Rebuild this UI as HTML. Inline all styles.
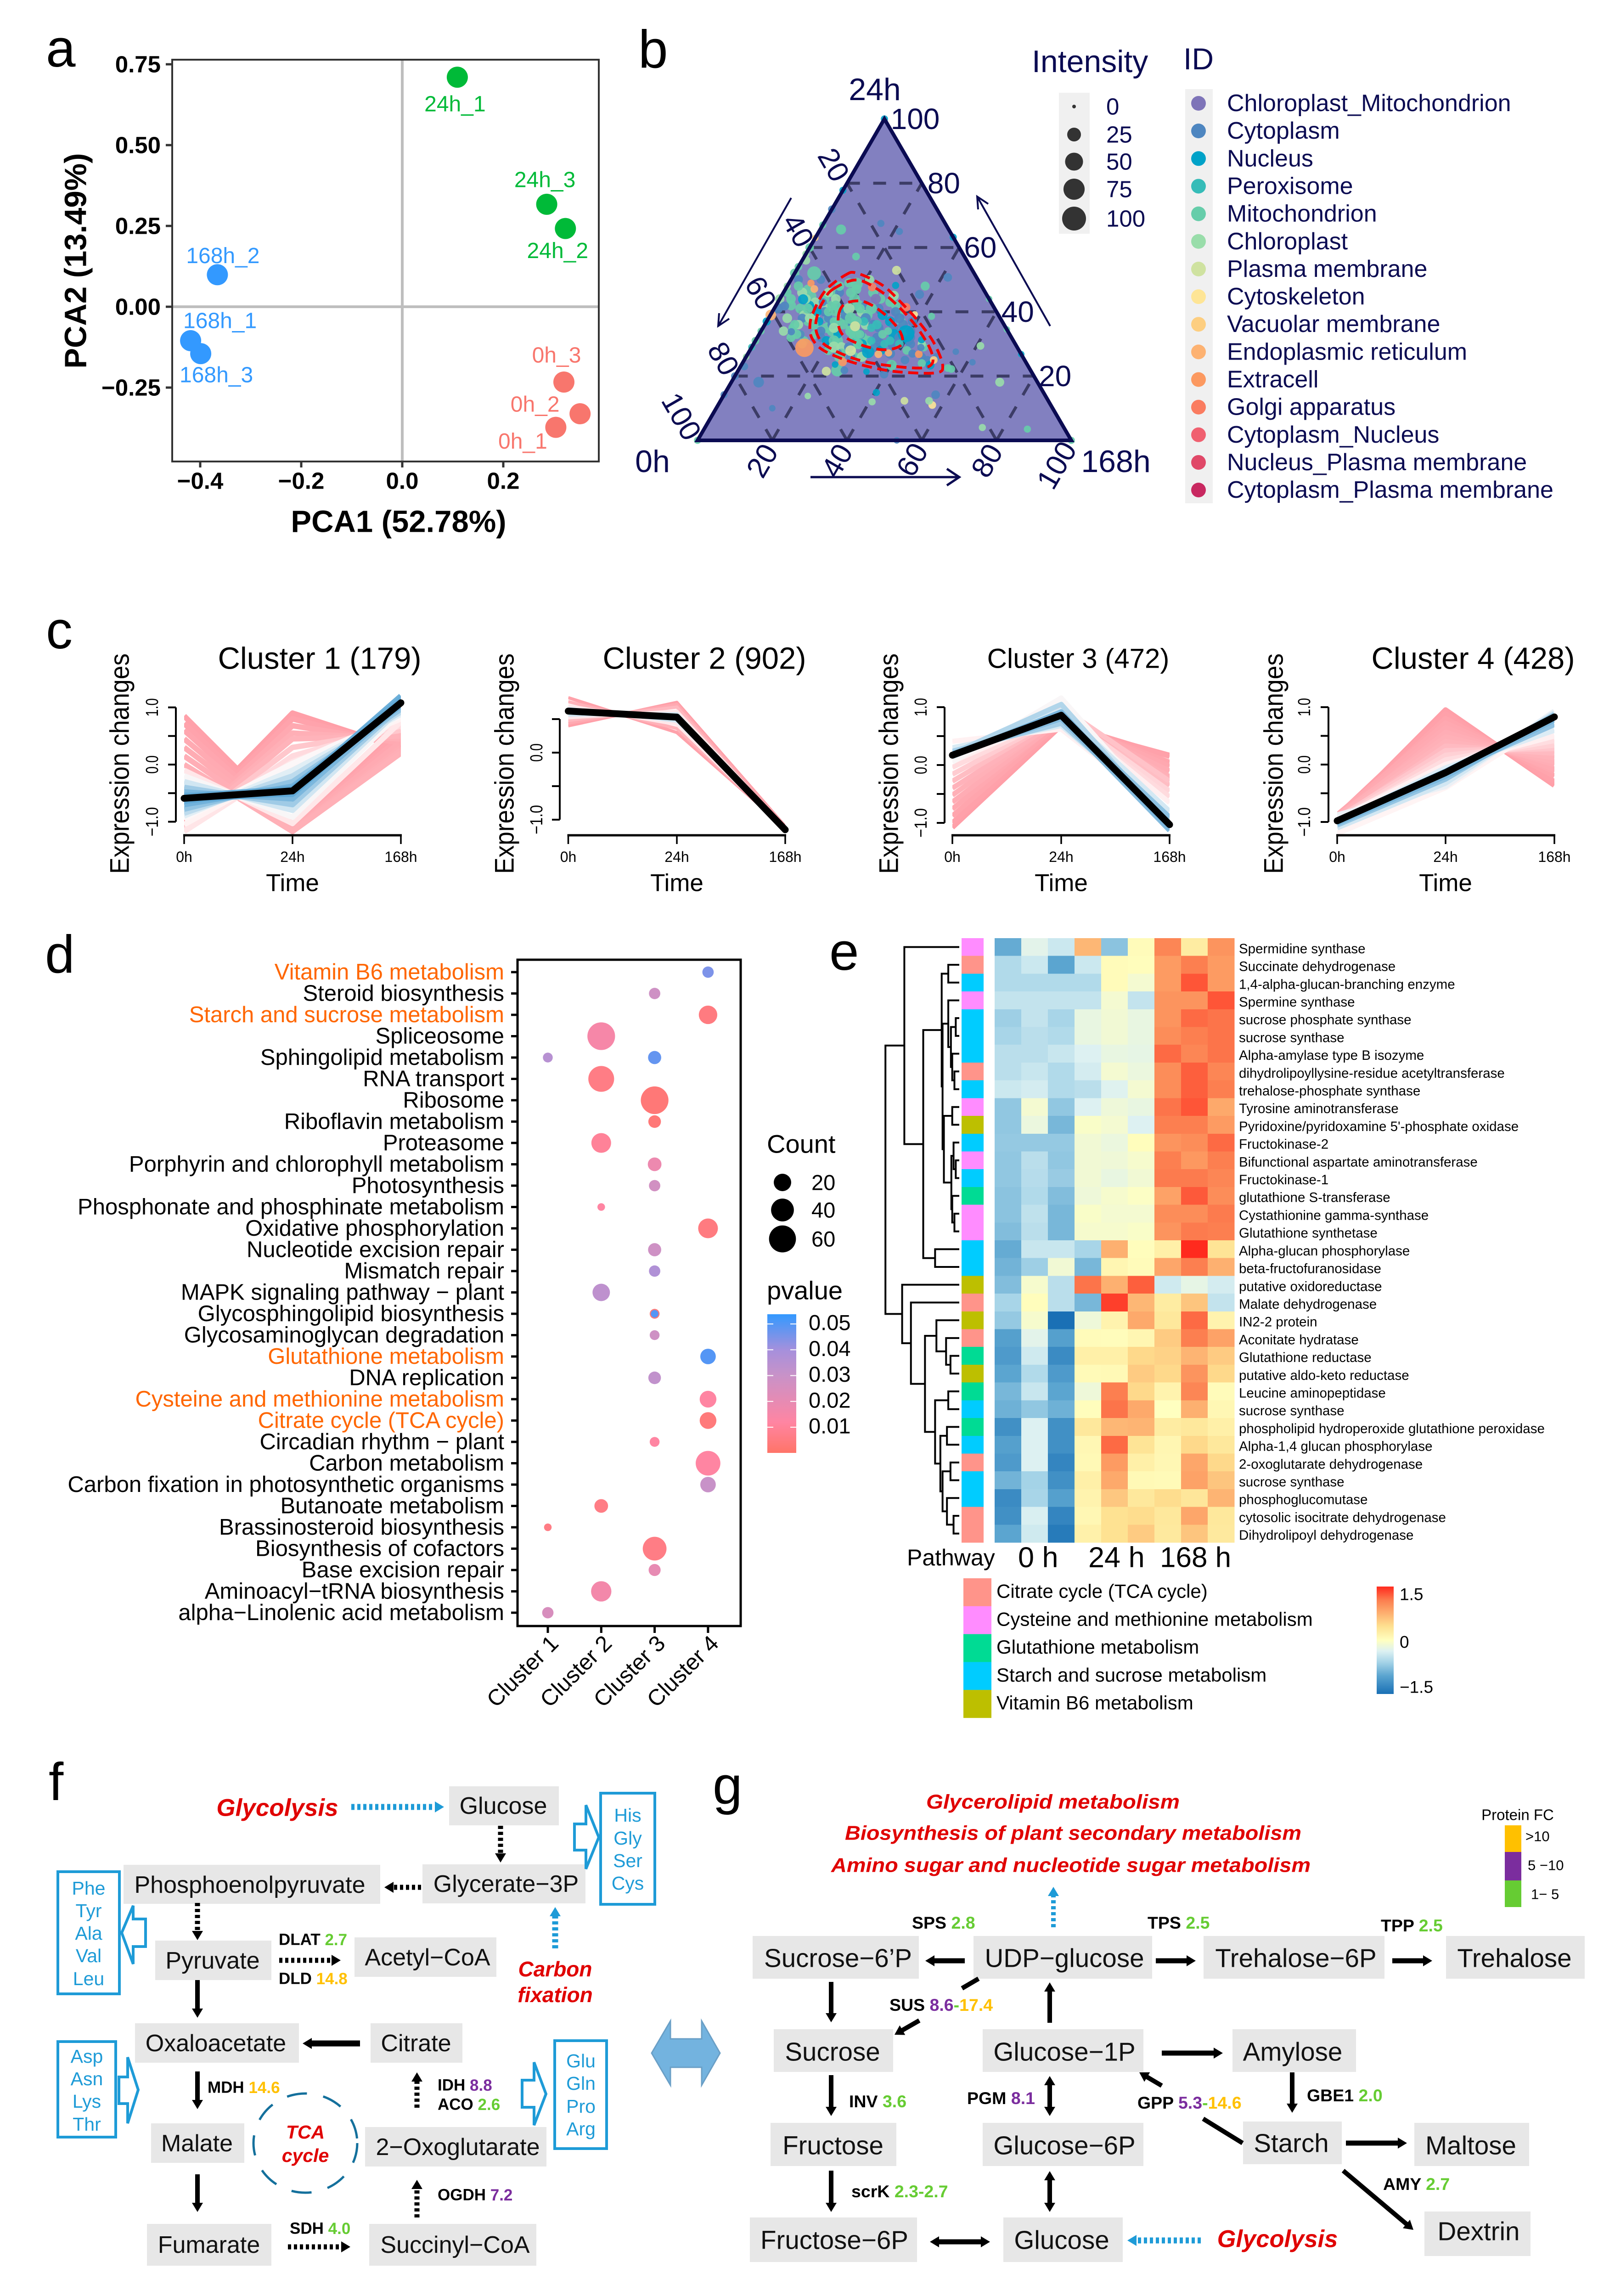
<!DOCTYPE html>
<html lang="en">
<head>
<meta charset="utf-8">
<title>Multi-panel proteomics figure</title>
<style>
html,body{margin:0;padding:0;background:#fff;width:3517px;height:5000px;overflow:hidden}
svg{display:block;position:absolute;left:0;top:0;font-family:"Liberation Sans",sans-serif}
.c{text-anchor:middle;dominant-baseline:central}
.l{text-anchor:start;dominant-baseline:central}
.r{text-anchor:end;dominant-baseline:central}
.panel{font-size:116px;fill:#000}
.node{fill:#E7E7E7}
.f{font-size:52px;fill:#111}
.g{font-size:56.5px;fill:#111}
.aa{font-size:41px;fill:#1E9BD7}
.bbox{fill:#fff;stroke:#1E9BD7;stroke-width:6}
.red{font-weight:bold;font-style:italic;fill:#E00000}
.e{font-size:35px;font-weight:bold;fill:#000}
.e2{font-size:37.5px;font-weight:bold;fill:#000}
.gr{fill:#66CC33}.or{fill:#FFC000}.pu{fill:#7B2D9E}
</style>
</head>
<body>
<svg id="fig" width="3517" height="5000" viewBox="0 0 3517 5000">
<defs>
<linearGradient id="pGrad" x1="0" y1="0" x2="0" y2="1">
<stop offset="0" stop-color="#3399FF"/><stop offset=".26" stop-color="#A690DC"/><stop offset=".44" stop-color="#C892C8"/><stop offset=".78" stop-color="#FF85A2"/><stop offset="1" stop-color="#FF7468"/>
</linearGradient>
<linearGradient id="hGrad" x1="0" y1="0" x2="0" y2="1">
<stop offset="0" stop-color="#FF2A1E"/><stop offset=".13" stop-color="#FC7F50"/><stop offset=".25" stop-color="#FDB070"/><stop offset=".37" stop-color="#FEE090"/><stop offset=".5" stop-color="#FFFFC0"/><stop offset=".6" stop-color="#DDF1F2"/><stop offset=".7" stop-color="#A8D5E8"/><stop offset=".83" stop-color="#5BA5D0"/><stop offset="1" stop-color="#1A70B5"/>
</linearGradient>
</defs>

<text class="panel" x="100" y="145">a</text>
<text class="panel" x="1390" y="147">b</text>
<text class="panel" x="100" y="1412">c</text>
<text class="panel" x="98" y="2118">d</text>
<text class="panel" x="1806" y="2112">e</text>
<text class="panel" x="106" y="3920">f</text>
<text class="panel" x="1552" y="3928">g</text>

<g id="panelA">
<text class="c" x="868" y="1136" font-size="67" font-weight="bold">PCA1 (52.78%)</text>
<text class="c" x="165" y="568" font-size="67" font-weight="bold" transform="rotate(-90 165 568)">PCA2 (13.49%)</text>
</g>

<g id="panelB">
<polygon points="1926,259 2333,959 1519,959" fill="#8280C0"/>
<g id="ternGrid"></g>
<g id="ternPoints"></g>
<polygon points="1926,259 2333,959 1519,959" fill="none" stroke="#0B0B52" stroke-width="8"/>
<g id="ternContours"></g>
<g fill="#0B0B52" font-size="68">
<text class="c" x="1905" y="195">24h</text>
<text class="c" x="1421" y="1005">0h</text>
<text class="c" x="2430" y="1005" text-anchor="middle">168h</text>
</g>
<g stroke="#0B0B52" stroke-width="4" fill="none">
<path d="M1723 431L1564 710M1566 682L1564 710L1588 694"/>
<path d="M2287 710L2128 428M2130 456L2128 428L2152 444"/>
<path d="M1765 1039L2089 1039M2062 1021L2089 1039L2062 1057" stroke-width="5"/>
</g>
<text class="l" x="2247" y="134" font-size="68" fill="#0B0B52">Intensity</text>
<rect x="2306" y="202" width="67" height="307" fill="#F0F0F0"/>
<text class="l" x="2577" y="128" font-size="66" fill="#0B0B52">ID</text>
<rect x="2581" y="194" width="60" height="902" fill="#F0F0F0"/>
<g id="ternLegend"></g>
</g>

<g id="panelC"></g>

<g id="panelD">
<rect x="1127" y="2090" width="486" height="1451" fill="none" stroke="#000" stroke-width="5"/>
<text class="l" x="1670" y="2491" font-size="56">Count</text>
<text class="l" x="1670" y="2810" font-size="56">pvalue</text>
<rect x="1671" y="2862" width="63" height="302" fill="url(#pGrad)"/>
</g>

<g id="panelE">
<text class="l" x="1975" y="3392" font-size="50">Pathway</text>
<text class="l" x="2217" y="3392" font-size="63">0 h</text>
<text class="l" x="2370" y="3392" font-size="63">24 h</text>
<text class="l" x="2526" y="3392" font-size="62">168 h</text>
<rect x="2998" y="3455" width="37" height="234" fill="url(#hGrad)"/>
<text class="l" x="3048" y="3472" font-size="37">1.5</text>
<text class="l" x="3048" y="3576" font-size="37">0</text>
<text class="l" x="3048" y="3674" font-size="37">−1.5</text>
</g>

<g id="panelF" transform="translate(0,-3)">
<g><rect class="node" x="978" y="3893" width="239" height="85"/><text class="c f" x="1096" y="3936">Glucose</text></g>
<g><rect class="node" x="920" y="4063" width="355" height="85"/><text class="c f" x="1102" y="4106">Glycerate−3P</text></g>
<g><rect class="node" x="269" y="4064" width="559" height="85"/><text class="c f" x="544" y="4108">Phosphoenolpyruvate</text></g>
<g><rect class="node" x="338" y="4229" width="253" height="86"/><text class="c f" x="463" y="4273">Pyruvate</text></g>
<g><rect class="node" x="772" y="4222" width="309" height="86"/><text class="c f" x="931" y="4266">Acetyl−CoA</text></g>
<g><rect class="node" x="294" y="4409" width="357" height="86"/><text class="c f" x="470" y="4453">Oxaloacetate</text></g>
<g><rect class="node" x="807" y="4409" width="200" height="86"/><text class="c f" x="906" y="4453">Citrate</text></g>
<g><rect class="node" x="329" y="4627" width="203" height="86"/><text class="c f" x="429" y="4671">Malate</text></g>
<g><rect class="node" x="795" y="4635" width="395" height="86"/><text class="c f" x="997" y="4679">2−Oxoglutarate</text></g>
<g><rect class="node" x="320" y="4846" width="271" height="91"/><text class="c f" x="455" y="4892">Fumarate</text></g>
<g><rect class="node" x="804" y="4846" width="364" height="91"/><text class="c f" x="991" y="4892">Succinyl−CoA</text></g>

<g><rect class="bbox" x="1308" y="3908" width="118" height="242"/><text class="c aa" x="1367" y="3956">His</text><text class="c aa" x="1367" y="4006">Gly</text><text class="c aa" x="1367" y="4055">Ser</text><text class="c aa" x="1367" y="4104">Cys</text></g>
<g><rect class="bbox" x="126" y="4079" width="134" height="266"/><text class="c aa" x="193" y="4115">Phe</text><text class="c aa" x="193" y="4164">Tyr</text><text class="c aa" x="193" y="4213">Ala</text><text class="c aa" x="193" y="4262">Val</text><text class="c aa" x="193" y="4312">Leu</text></g>
<g><rect class="bbox" x="126" y="4449" width="126" height="208"/><text class="c aa" x="189" y="4481">Asp</text><text class="c aa" x="189" y="4530">Asn</text><text class="c aa" x="189" y="4579">Lys</text><text class="c aa" x="189" y="4629">Thr</text></g>
<g><rect class="bbox" x="1208" y="4447" width="113" height="235"/><text class="c aa" x="1265" y="4491">Glu</text><text class="c aa" x="1265" y="4540">Gln</text><text class="c aa" x="1265" y="4590">Pro</text><text class="c aa" x="1265" y="4639">Arg</text></g>

<polygon class="bbox" points="1251,3975 1276,3975 1276,3934 1304,4004 1276,4073 1276,4032 1251,4032"/>
<polygon class="bbox" points="317,4182 290,4182 290,4153 265,4212 290,4280 290,4242 317,4242"/>
<polygon class="bbox" points="259,4526 278,4526 278,4483 301,4554 278,4627 278,4584 259,4584"/>
<polygon class="bbox" points="1137,4533 1163,4533 1163,4494 1189,4563 1163,4631 1163,4592 1137,4592"/>

<text class="c red" x="604" y="3940" font-size="53">Glycolysis</text>
<text class="c red" x="1209" y="4291" font-size="46">Carbon</text>
<text class="c red" x="1209" y="4347" font-size="46">fixation</text>
<text class="c red" x="665" y="4646" font-size="41">TCA</text>
<text class="c red" x="665" y="4697" font-size="41">cycle</text>
<ellipse cx="665" cy="4670" rx="113" ry="108" fill="none" stroke="#14709C" stroke-width="5" stroke-dasharray="44 36"/>

<text class="l e" x="607" y="4227">DLAT <tspan class="gr">2.7</tspan></text>
<text class="l e" x="607" y="4312">DLD <tspan class="or">14.8</tspan></text>
<text class="l e" x="452" y="4549">MDH <tspan class="or">14.6</tspan></text>
<text class="l e" x="953" y="4544">IDH <tspan class="pu">8.8</tspan></text>
<text class="l e" x="953" y="4586">ACO <tspan class="gr">2.6</tspan></text>
<text class="l e" x="953" y="4783">OGDH <tspan class="pu">7.2</tspan></text>
<text class="l e" x="631" y="4856">SDH <tspan class="gr">4.0</tspan></text>
</g>

<polygon points="1419,4471 1460,4401 1460,4440 1528,4440 1528,4401 1568,4471 1528,4541 1528,4502 1460,4502 1460,4541" fill="#73B3DF" stroke="#6A9FC6" stroke-width="3"/>

<g id="panelG" transform="translate(0,-3)">
<g><rect class="node" x="1639" y="4219" width="362" height="93"/><text class="c g" x="1825" y="4267">Sucrose−6’P</text></g>
<g><rect class="node" x="2120" y="4219" width="389" height="93"/><text class="c g" x="2318" y="4267">UDP−glucose</text></g>
<g><rect class="node" x="2621" y="4219" width="394" height="93"/><text class="c g" x="2822" y="4267">Trehalose−6P</text></g>
<g><rect class="node" x="3149" y="4219" width="302" height="93"/><text class="c g" x="3298" y="4267">Trehalose</text></g>
<g><rect class="node" x="1685" y="4422" width="260" height="93"/><text class="c g" x="1813" y="4471">Sucrose</text></g>
<g><rect class="node" x="2140" y="4422" width="350" height="93"/><text class="c g" x="2318" y="4471">Glucose−1P</text></g>
<g><rect class="node" x="2684" y="4422" width="269" height="93"/><text class="c g" x="2815" y="4471">Amylose</text></g>
<g><rect class="node" x="1678" y="4626" width="274" height="94"/><text class="c g" x="1814" y="4675">Fructose</text></g>
<g><rect class="node" x="2140" y="4626" width="350" height="94"/><text class="c g" x="2318" y="4675">Glucose−6P</text></g>
<g><rect class="node" x="2707" y="4623" width="215" height="93"/><text class="c g" x="2812" y="4670">Starch</text></g>
<g><rect class="node" x="3080" y="4626" width="250" height="94"/><text class="c g" x="3203" y="4675">Maltose</text></g>
<g><rect class="node" x="1633" y="4832" width="364" height="97"/><text class="c g" x="1817" y="4881">Fructose−6P</text></g>
<g><rect class="node" x="2185" y="4832" width="260" height="97"/><text class="c g" x="2312" y="4881">Glucose</text></g>
<g><rect class="node" x="3102" y="4819" width="231" height="97"/><text class="c g" x="3220" y="4862">Dextrin</text></g>

<text class="c red" x="2293" y="3927" font-size="44" textLength="552" lengthAdjust="spacingAndGlyphs">Glycerolipid  metabolism</text>
<text class="c red" x="2337" y="3995" font-size="44" textLength="994" lengthAdjust="spacingAndGlyphs">Biosynthesis of plant secondary metabolism</text>
<text class="c red" x="2332" y="4065" font-size="44" textLength="1044" lengthAdjust="spacingAndGlyphs">Amino sugar and nucleotide sugar metabolism</text>
<text class="c red" x="2782" y="4879" font-size="52.5">Glycolysis</text>

<text class="c" x="3305" y="3955" font-size="33">Protein FC</text>
<rect x="3277" y="3978" width="36" height="58" fill="#FFC000"/>
<rect x="3277" y="4036" width="36" height="62" fill="#7B2D9E"/>
<rect x="3277" y="4098" width="36" height="58" fill="#66CC33"/>
<text class="l" x="3322" y="4002" font-size="31">&gt;10</text>
<text class="l" x="3327" y="4065" font-size="31">5 −10</text>
<text class="l" x="3334" y="4128" font-size="31">1− 5</text>

<text class="l e2" x="1986" y="4190">SPS <tspan class="gr">2.8</tspan></text>
<text class="l e2" x="2499" y="4190">TPS <tspan class="gr">2.5</tspan></text>
<text class="l e2" x="3007" y="4196">TPP <tspan class="gr">2.5</tspan></text>
<text class="l e2" x="1937" y="4369">SUS <tspan class="pu">8.6</tspan><tspan class="gr">-</tspan><tspan class="or">17.4</tspan></text>
<text class="l e2" x="1849" y="4579">INV <tspan class="gr">3.6</tspan></text>
<text class="l e2" x="2106" y="4572">PGM <tspan class="pu">8.1</tspan></text>
<text class="l e2" x="2477" y="4582">GPP <tspan class="pu">5.3</tspan><tspan class="gr">-</tspan><tspan class="or">14.6</tspan></text>
<text class="l e2" x="2846" y="4566">GBE1 <tspan class="gr">2.0</tspan></text>
<text class="l e2" x="1854" y="4775">scrK <tspan class="gr">2.3-2.7</tspan></text>
<text class="l e2" x="3012" y="4759">AMY <tspan class="gr">2.7</tspan></text>
</g>
<g id="arrows" transform="translate(0,-3)"></g>
</svg>

<script>
/* ---------- Panel a data ---------- */
const pcaSamples = ['24h_1','24h_3','24h_2','168h_2','168h_1','168h_3','0h_3','0h_2','0h_1'];
const pcaX = [0.109,0.286,0.323,-0.366,-0.419,-0.399,0.320,0.352,0.304];
const pcaY = [0.710,0.317,0.242,0.099,-0.105,-0.145,-0.233,-0.331,-0.373];
const pcaXTicks = [-0.4,-0.2,0,0.2];
const pcaYTicks = [0.75,0.5,0.25,0,-0.25];

/* ---------- Panel b data (percent) ---------- */
const ternT168 = [
6,8,10,7,12,9,11,14,8,13, 15,12,16,14,18,17,11,19,15,13, 20,22,24,21,26,23,25,27,19,28, 22,24,26,28,25,27,30,29,32,21, 16,19,21,24,27,30,32,34,36,39,
8,10,12,9,13,15,11,14,16,18, 9,12,14,16,18,20,17,19,22,21, 24,26,28,30,29,31,33,35,27,32, 33,35,37,39,36,38,40,41,34,42, 24,26,28,31,29,33,35,37,38,27,
26,29,31,35,34,23,21,18,15,27, 42,44,46,47,49,48,43,45,41,51, 0,1,0,2,1,0,1,0,0,1,
7,9,11,13,10,15,17,20,22,24, 19,21,24,26,22,26,28,25,30,18, 12,14,16,9,13,30,33,36,39,31, 4,5,3,5,3,8,6,9,
14.2,5.2,18.2,39.2,31.9,27,24.4,25.7,26.8,36.9, 36.7,35.1,22.9,45.8,26.5,28.4,26.6,23.7,40.2,50.5, 55.7,56.8,39.6,25,34.5,8.2,2.4,6.3,0.1,5.9, 7.7,38.5,43.3,50.7,28.9,41.6,13.8,55.3,7.3,35, 37.5,44.3,45.3,
5.6,15.3,21.5,36.8,61,61.4,71.8,15,22.6,40.4, 40.7,49.2,56.6,57.3,55.8,74.2,86.5,53.3,0,0, 100,0,56,65.5,73.2,
0,0,0,0,0,0,0,0,0,0,0];
const ternT24 = [
47,45,43,41,44,39,37,41,35,46, 42,39,38,36,40,35,33,37,33,31, 44,42,40,38,39,36,34,36,34,32, 31,29,32,30,27,28,31,26,29,28, 49,47,50,46,44,45,42,40,37,34,
50,41,43,38,36,46,33,40,38,36, 42,40,37,34,41,39,32,31,37,33, 42,38,41,39,36,35,37,35,33,32, 40,38,36,37,33,32,34,31,30,30, 27,29,26,27,30,29,28,30,27,31,
37,35,31,30,34,41,36,37,40,33, 28,27,29,26,25,24,25,30,32,26, 60,56,52,50,46,44,41,37,31,23,
44,41,38,36,33,44,40,41,38,34, 35,31,37,41,29,33,30,26,36,46, 46,48,42,36,30,43,33,31,30,26, 42,38,44,46,48,36,34,32,
28.8,52,48.7,33.2,27.5,27.9,35.5,44,52.9,48, 45.4,41.4,47.7,26.8,21.8,21.8,24.4,21.5,23.4,23.4, 22.5,22.2,20.6,23.6,21.4,33.8,41.8,43.9,39,48.9, 47.1,39.2,38.6,25,48.2,50.7,57.2,27.6,18.1,26.8, 27.2,31.3,28.9,
65.6,67.5,65,63.2,29.4,24.3,18.1,10,13.8,14.9, 12,12.3,14.2,11,12.3,4,3.5,0,14.2,0, 0,100,44,34.5,26.8,
77.8,71.9,67,63,58,54,48,34,26,20,29];
const ternIntensity = [
8,9,8,10,9,8,7,8,7,9, 9,8,10,9,8,10,6,9,8,7, 12,14,12,14,10,12,14,10,12,12, 12,10,14,12,10,12,10,8,10,8, 8,9,8,10,8,10,8,8,7,8,
6,6,5,7,8,7,6,8,7,8, 7,7,6,7,6,8,7,8,7,6, 8,10,8,10,9,8,10,9,9,8, 8,10,9,8,12,10,8,8,10,7, 8,9,7,9,8,9,8,9,10,6,
6,5,5,5,4,8,8,6,7,6, 6,5,6,5,5,5,6,5,7,4, 6,6,8,7,6,8,9,5,4,4,
9,10,9,10,8,9,8,14,16,14, 10,12,12,14,14,12,10,12,8,9, 8,8,9,8,7,8,6,6,6,10, 10,9,9,10,8,8,8,7,
53,25,18,42,18,12,10,10,7,7, 7,6,6,4,18,4,6,7,12,7, 4,4,6,2,2,3,7,10,12,3, 4,2,3,4,3,6,4,2,12,4, 3,3,3,
10,3,3,3,4,2,7,2,2,3, 3,4,6,4,4,3,3,2,3,3, 3,3,2,2,2,
3,4,3,2,3,4,3,3,2,4,3];
const ternLocation = [
4,4,5,4,4,5,4,5,4,4, 4,5,4,4,5,4,5,4,4,4, 4,4,5,4,4,4,4,5,4,4, 4,5,4,4,4,5,4,4,4,4, 4,4,5,4,4,5,4,4,4,4,
1,1,1,1,1,1,1,1,1,1, 2,2,2,1,2,1,1,2,1,2, 1,1,1,2,1,1,2,1,1,1, 1,1,1,1,2,1,1,2,1,1, 1,1,1,1,2,1,2,1,1,3,
3,3,3,3,4,4,4,4,4,4, 4,1,4,1,1,4,1,5,1,1, 4,5,4,1,4,5,1,2,4,1,
5,4,5,4,4,5,4,5,4,4, 5,4,4,4,5,4,4,4,3,4, 5,4,4,5,5,4,4,3,3,5, 4,5,4,5,4,4,5,4,
10,4,4,2,2,6,6,0,6,4, 1,11,11,10,4,1,10,6,4,2, 4,4,1,2,2,1,1,2,9,10, 9,7,4,8,2,1,4,1,1,9, 9,2,1,
4,1,1,2,5,1,5,1,5,2, 5,6,1,7,5,5,4,1,1,4, 4,2,4,4,2,
2,1,4,8,5,4,5,4,5,1,3];
const contourOuterT168 = [13.9,16.7,25.1,32.6,40.6,48.1,54,53.1,43.2,35.3,27.4,19.7,15.2,12.6,11.1,10.9];
const contourOuterT24 = [51.5,52,48.4,43.2,37,30.3,23.2,21,21.3,22.7,24.9,28,31.3,34.9,39.4,46.5];
const contourMiddleT168 = [12.7,17.6,25.6,33.4,41.2,48.4,50.8,47.5,36.6,28.7,20.7,16.6,13.8,12.3,12];
const contourMiddleT24 = [47,49.9,46.5,41.3,35.1,28,23.7,22.5,23.7,25.6,28.9,31.8,35.6,40.1,43.4];
const contourInnerT168 = [18.1,18.2,21.6,25.3,29.4,33.3,37.4,39.7,38.6,35.6,31.6,27.9,23.3,20.3];
const contourInnerT24 = [39.4,42.5,43.4,42.2,39.9,37.2,33.7,30.3,28.7,28.2,28.9,30.1,32.2,35.1];
const ternTicks = [20,40,60,80,100];
const intensityLevels = [0,25,50,75,100];
const locationNames = ['Chloroplast_Mitochondrion','Cytoplasm','Nucleus','Peroxisome','Mitochondrion','Chloroplast','Plasma membrane','Cytoskeleton','Vacuolar membrane','Endoplasmic reticulum','Extracell','Golgi apparatus','Cytoplasm_Nucleus','Nucleus_Plasma membrane','Cytoplasm_Plasma membrane'];

/* ---------- Panel c data: member profiles [0h, 24h, 168h] ---------- */
const clusterTimes = ['0h','24h','168h'];
const cluster1Center = [-0.59,-0.46,1.08];
const cluster2Center = [0.62,0.53,-1.15];
const cluster3Center = [0.17,0.86,-1.03];
const cluster4Center = [-0.98,-0.14,0.83];
const cluster1Lines = [[.85,-1.05,.7],[.72,-1.08,.55],[.6,-1.1,.48],[.45,-1.12,.4],[.3,-1.14,.3],[.15,-1.15,.25],[0,-1.17,.2],[-.1,-1.03,.75],[-.2,-.92,.92],[-.3,-.8,.98],[-.4,-.7,1.02],[-.48,-.6,1.06],[-.54,-.52,1.1],[-1.04,.9,.28],[-1.06,.8,.32],[-1.08,.68,.38],[-1.1,.55,.45],[-1.12,.45,.5],[-1.14,.3,.6],[-1.16,.15,.68],[-1.17,.05,.75],[-1.05,0,.8],[-.95,.02,.85],[-.9,-.1,.88],[-.85,-.2,.92],[-.78,-.3,.97],[-.7,-.38,1.03],[-.64,-.42,1.08],[-.62,-.5,1.12],[-.55,-.42,1.15],[-.6,-.46,1.2]];
const cluster2Lines = [[.82,.3,-1.12],[.76,.36,-1.13],[.7,.42,-1.15],[.66,.47,-1.12],[.4,.75,-1.1],[.44,.72,-1.12],[.48,.68,-1.16],[.52,.62,-1.13],[.56,.58,-1.15],[.6,.55,-1.14],[.62,.53,-1.15],[.64,.5,-1.15]];
const cluster3Lines = [[-1.08,.68,.17],[-1.0,.72,.15],[-.88,.75,.05],[-.76,.8,-.02],[-.64,.78,-.1],[-.52,.82,-.2],[-.4,.8,-.25],[-.28,.84,-.35],[-.16,.85,-.45],[-.04,.86,-.55],[.06,.88,-.65],[.14,.95,-.8],[.2,.86,-.9],[.3,.68,-.9],[.41,.62,-.85],[.05,1.16,-.95],[.2,1.05,-1.05],[.16,.92,-1.1],[.18,.8,-1.13],[.24,.72,-.95],[.12,.9,-.45],[.1,1.0,-.28]];
const cluster4Lines = [[-.95,.95,-.36],[-.9,.88,-.3],[-.95,.8,-.2],[-.88,.72,-.12],[-.92,.64,-.08],[-.95,.56,0],[-.9,.48,.05],[-.93,.4,.12],[-.97,.32,.2],[-.94,.24,.28],[-.96,.16,.34],[-.98,.08,.42],[-.95,0,.5],[-1,-.06,.6],[-.98,-.14,.7],[-1.02,-.2,.78],[-.97,-.12,.83],[-1.05,-.25,.87],[-1.1,-.32,.9],[-.88,-.38,.93],[-1.2,-.4,.8]];
const clusterTitles = ['Cluster 1 (179)','Cluster 2 (902)','Cluster 3 (472)','Cluster 4 (428)'];

/* ---------- Panel d data ---------- */
const pathwayNames = ['Vitamin B6 metabolism','Steroid biosynthesis','Starch and sucrose metabolism','Spliceosome','Sphingolipid metabolism','RNA transport','Ribosome','Riboflavin metabolism','Proteasome','Porphyrin and chlorophyll metabolism','Photosynthesis','Phosphonate and phosphinate metabolism','Oxidative phosphorylation','Nucleotide excision repair','Mismatch repair','MAPK signaling pathway − plant','Glycosphingolipid biosynthesis','Glycosaminoglycan degradation','Glutathione metabolism','DNA replication','Cysteine and methionine metabolism','Citrate cycle (TCA cycle)','Circadian rhythm − plant','Carbon metabolism','Carbon fixation in photosynthetic organisms','Butanoate metabolism','Brassinosteroid biosynthesis','Biosynthesis of cofactors','Base excision repair','Aminoacyl−tRNA biosynthesis','alpha−Linolenic acid metabolism'];
const highlightedPathways = ['Vitamin B6 metabolism','Starch and sucrose metabolism','Glutathione metabolism','Cysteine and methionine metabolism','Citrate cycle (TCA cycle)'];
const bubbleClusterNames = ['Cluster 1','Cluster 2','Cluster 3','Cluster 4'];
const bubblePathway = [0,1,2,3,4,4,5,6,7,8,9,10,11,12,13,14,15,16,16,17,18,19,20,21,22,23,24,25,26,27,28,29,30];
const bubbleCluster = [4,3,4,2,1,3,2,3,3,2,3,3,2,4,3,3,2,3,3,3,4,3,4,4,3,4,4,2,1,3,3,2,1];
const bubbleCount = [5,5,21,58,3,8,49,58,7,25,9,5,1,25,8,5,18,3,1,3,13,7,16,16,3,44,13,9,1,40,6,27,5];
const bubbleP = [.045,.028,.005,.015,.035,.048,.006,.003,.003,.01,.018,.027,.012,.005,.028,.037,.033,.003,.05,.028,.05,.032,.012,.004,.012,.012,.03,.006,.006,.006,.02,.016,.025];
const countLevels = [20,40,60];
const pvalueTicks = [0.05,0.04,0.03,0.02,0.01];

/* ---------- Panel e data ---------- */
const heatRowNames = ['Spermidine synthase','Succinate dehydrogenase','1,4-alpha-glucan-branching enzyme','Spermine synthase','sucrose phosphate synthase','sucrose synthase','Alpha-amylase type B isozyme','dihydrolipoyllysine-residue acetyltransferase','trehalose-phosphate synthase','Tyrosine aminotransferase',"Pyridoxine/pyridoxamine 5'-phosphate oxidase",'Fructokinase-2','Bifunctional aspartate aminotransferase','Fructokinase-1','glutathione S-transferase','Cystathionine gamma-synthase','Glutathione synthetase','Alpha-glucan phosphorylase','beta-fructofuranosidase','putative oxidoreductase','Malate dehydrogenase','IN2-2 protein','Aconitate hydratase','Glutathione reductase','putative aldo-keto reductase','Leucine aminopeptidase','sucrose synthase','phospholipid hydroperoxide glutathione peroxidase','Alpha-1,4 glucan phosphorylase','2-oxoglutarate dehydrogenase','sucrose synthase','phosphoglucomutase','cytosolic isocitrate dehydrogenase','Dihydrolipoyl dehydrogenase'];
const heatValues = [
[-.95,-.25,-.4,.7,-.75,.05,1.05,.25,.95],[-.55,-.4,-1,-.4,.05,.03,.9,1.1,.9],[-.55,-.55,-.55,-.55,.05,-.1,.9,1.3,.9],[-.45,-.45,-.45,-.45,-.1,-.45,.95,.95,1.3],
[-.65,-.45,-.6,-.2,-.12,-.2,.95,1.2,1.15],[-.6,-.5,-.55,-.2,-.12,-.2,1.0,1.1,1.15],[-.5,-.5,-.42,-.3,-.2,-.22,1.2,1.05,1.15],[-.5,-.42,-.55,-.35,-.1,-.18,1.0,1.25,1.05],
[-.4,-.35,-.55,-.5,-.28,-.1,1.0,1.25,1.1],[-.72,-.1,-.72,-.3,-.15,-.2,1.15,1.3,.8],[-.72,-.18,-.85,-.05,-.1,-.3,1.1,1.1,.9],[-.7,-.7,-.7,-.12,-.18,.03,.95,1.0,1.2],
[-.72,-.5,-.72,-.12,-.14,-.08,1.1,.92,1.1],[-.72,-.52,-.68,-.12,-.2,-.12,1.12,1.12,1.05],[-.75,-.55,-.8,-.15,-.08,-.03,.85,1.28,1.0],[-.75,-.47,-.85,-.05,-.1,-.1,1.0,1.0,1.12],
[-.8,-.5,-.85,-.08,-.08,-.05,.95,1.12,1.1],[-.95,-.42,-.42,-.6,.75,.03,.2,1.5,.35],[-.88,-.65,-.12,-.85,.12,.05,.82,1.1,.75],[-.8,-.08,-.5,1.15,.75,1.25,-.38,-.22,-.35],
[-.6,.03,-.5,-.85,1.4,.7,.25,.6,-.45],[-.7,-.08,-1.5,-.15,.15,.8,.3,1.2,.15],[-1.05,-.25,-1.05,.05,.04,.12,.55,1.1,.85],[-1.1,-.38,-1.25,.2,.2,.45,.5,.72,.55],
[-1.0,-.55,-1.1,.07,.08,.55,.45,.95,.45],[-.85,-.42,-1.0,-.15,1.1,.45,.15,1.05,.05],[-.9,-.72,-.9,.03,1.15,.8,0,.75,.1],[-1.2,-.3,-1.2,.3,.7,.72,.25,.3,.2],
[-1.05,-.3,-1.2,.1,1.2,.35,.12,.45,.3],[-1.1,-.3,-1.3,.08,.9,.2,.1,.82,.45],[-.88,-.62,-1.2,.2,.8,.08,.07,.85,.6],[-1.25,-.6,-1.05,.15,.58,.3,.42,.32,.72],
[-1.2,-.32,-1.3,.1,.38,.42,.3,.82,.3],[-1.0,-.38,-1.4,.18,.38,.55,.28,.6,.28]];
const annotationNames = ['Citrate cycle (TCA cycle)','Cysteine and methionine metabolism','Glutathione metabolism','Starch and sucrose metabolism','Vitamin B6 metabolism'];
const heatRowPathway = [1,0,3,1,3,3,3,0,3,1,4,3,1,3,2,1,1,3,3,4,0,4,0,2,4,2,3,2,3,0,3,3,0,0];
const dendrogramTree = [16.8,
  [12.5,1,[8.2,[4.0,[2.5,2,3],[3.8,[2.5,4,[1.9,[.8,5,6],[1.6,7,[1.1,8,9]]]],[3.5,[1.6,10,11],[1.8,[1.3,12,[.8,13,14]],[1.6,15,[1.1,16,17]]]]]],[5.5,18,19]]],
  [13,20,[11,21,[7.8,[5.2,22,[3,23,[2,24,25]]],[5.5,[2.5,26,27],[4.3,[2.8,28,29],[3.8,[2,30,31],[2.8,32,[1.3,33,34]]]]]]]]];

/* ---------- Helpers ---------- */
const svgRoot = document.getElementById('fig');
const NS = svgRoot.namespaceURI;
function mk(tag, attrs, parent, text) {
  const el = document.createElementNS(NS, tag);
  for (const k in attrs) el.setAttribute(k, attrs[k]);
  if (text !== undefined) el.textContent = text;
  parent.appendChild(el);
  return el;
}
function hex2rgb(h){return [parseInt(h.slice(1,3),16),parseInt(h.slice(3,5),16),parseInt(h.slice(5,7),16)];}
function ramp(stops, v){
  if (v <= stops[0][0]) return stops[0][1];
  for (let i=1;i<stops.length;i++){
    if (v <= stops[i][0]){
      const t=(v-stops[i-1][0])/(stops[i][0]-stops[i-1][0]);
      const a=hex2rgb(stops[i-1][1]), b=hex2rgb(stops[i][1]);
      return 'rgb('+a.map((x,j)=>Math.round(x+(b[j]-x)*t)).join(',')+')';
    }
  }
  return stops[stops.length-1][1];
}

/* ---------- Panel a ---------- */
const panelA = document.getElementById('panelA');
const xA = v => 876 + 1100*v;
const yA = v => 668 - 704*v;
const pcaColors = {'24h':'#00BA38','168h':'#3399FF','0h':'#F8766D'};
const pcaLabelNudge = {'24h_1':[-5,59],'24h_3':[-4,-53],'24h_2':[-17,49],'168h_2':[12,-41],'168h_1':[64,-43],'168h_3':[34,47],'0h_3':[-16,-58],'0h_2':[-98,-20],'0h_1':[-72,31]};
const gridV = mk('line',{x1:xA(0),x2:xA(0),y1:130,y2:1005,stroke:'#BEBEBE','stroke-width':6},panelA);


const gridH = mk('line',{x1:375,x2:1304,y1:yA(0),y2:yA(0),stroke:'#BEBEBE','stroke-width':6},panelA);


const pcaFrame = mk('rect',{x:375,y:130,width:929,height:875,fill:'none',stroke:'#333','stroke-width':4},panelA);


pcaXTicks.forEach(v=>{
  const tick = mk('line',{x1:xA(v),x2:xA(v),y1:1005,y2:1018,stroke:'#333','stroke-width':5},panelA);
  
  
  const lab = mk('text',{class:'c',x:xA(v),y:1047,'font-size':51,'font-weight':'bold'},panelA,(v<0?'−':'')+Math.abs(v).toFixed(1));
  
  
});
pcaYTicks.forEach(v=>{
  const tick = mk('line',{x1:361,x2:375,y1:yA(v),y2:yA(v),stroke:'#333','stroke-width':5},panelA);
  
  
  const lab = mk('text',{class:'r',x:350,y:yA(v),'font-size':51,'font-weight':'bold'},panelA,(v<0?'−':'')+Math.abs(v).toFixed(2));
  
  
});
pcaSamples.forEach((s,i)=>{
  const col = pcaColors[s.split('_')[0]];
  const dot = mk('circle',{cx:xA(pcaX[i]),cy:yA(pcaY[i]),r:23,fill:col},panelA);
  
  
  const n = pcaLabelNudge[s];
  const lab = mk('text',{class:'c',x:xA(pcaX[i])+n[0],y:yA(pcaY[i])+n[1],'font-size':48,fill:col},panelA,s);
  
  
});

/* ---------- Panel b ---------- */
const ternX = (t168,t24) => 1519 + 814*(t168 + t24/2)/100;
const ternY = t24 => 959 - 700*t24/100;
const ternR = i => 4 + 22*Math.sqrt(i/100);
const locationColors = ['#7E74B8','#4E86C0','#00A2C8','#36BCB8','#66CDAA','#99DDAA','#CFE2A0','#FEE596','#FDCE80','#FDB272','#FC9960','#FA7C60','#F06070','#E04868','#C82860'];
const ternGrid = document.getElementById('ternGrid');
[20,40,60,80].forEach(k=>{
  const segs = [
    [ternX(0,k),ternY(k),ternX(100-k,k),ternY(k)],
    [ternX(k,0),ternY(0),ternX(k,100-k),ternY(100-k)],
    [ternX(100-k,0),ternY(0),ternX(0,100-k),ternY(100-k)]
  ];
  segs.forEach(s=>{
    const ln = mk('line',{x1:s[0],y1:s[1],x2:s[2],y2:s[3],stroke:'#3C3C66','stroke-width':6.5,'stroke-dasharray':'28 29'},ternGrid);
    
    
  });
});
const ternPointsG = document.getElementById('ternPoints');
ternT168.forEach((t,i)=>{
  const pt = mk('circle',{cx:ternX(t,ternT24[i]),cy:ternY(ternT24[i]),r:ternR(ternIntensity[i]),fill:locationColors[ternLocation[i]],'fill-opacity':.9},ternPointsG);
  
  
});
function closedCurve(xs,ys){
  const n=xs.length; let d='M'+xs[0]+' '+ys[0];
  for(let i=0;i<n;i++){
    const p0=i===0?n-1:i-1,p1=i,p2=(i+1)%n,p3=(i+2)%n;
    d+='C'+(xs[p1]+(xs[p2]-xs[p0])/6)+' '+(ys[p1]+(ys[p2]-ys[p0])/6)+' '+(xs[p2]-(xs[p3]-xs[p1])/6)+' '+(ys[p2]-(ys[p3]-ys[p1])/6)+' '+xs[p2]+' '+ys[p2];
  }
  return d+'Z';
}
const ternContours = document.getElementById('ternContours');
const contourAttrs = {fill:'none',stroke:'#F50000','stroke-width':6,'stroke-dasharray':'22 12'};
const outerPath = mk('path',Object.assign({d:closedCurve(contourOuterT168.map((t,i)=>ternX(t,contourOuterT24[i])),contourOuterT24.map(v=>ternY(v)))},contourAttrs),ternContours);


const middlePath = mk('path',Object.assign({d:closedCurve(contourMiddleT168.map((t,i)=>ternX(t,contourMiddleT24[i])),contourMiddleT24.map(v=>ternY(v)))},contourAttrs),ternContours);


const innerPath = mk('path',Object.assign({d:closedCurve(contourInnerT168.map((t,i)=>ternX(t,contourInnerT24[i])),contourInnerT24.map(v=>ternY(v)))},contourAttrs),ternContours);



const ternLegend = document.getElementById('ternLegend');
const rightNudge = {100:67,80:48,60:46,40:46,20:46};
const leftNudge = {20:[-29,-40],40:[-25,-37],60:[-25,-41],80:[-25,-38],100:[-35,-52]};
const bottomNudge = {20:[-22,44],40:[-22,44],60:[-21,42],80:[-21,44],100:[-32,54]};
ternTicks.forEach(k=>{
  const a = mk('text',{class:'c',x:ternX(100-k,k)+rightNudge[k],y:ternY(k),'font-size':64,fill:'#0B0B52'},ternLegend,String(k));
  
  
  const lx = ternX(0,100-k)+leftNudge[k][0], ly = ternY(100-k)+leftNudge[k][1];
  const b = mk('text',{class:'c',x:lx,y:ly,'font-size':64,fill:'#0B0B52',transform:'rotate(60 '+lx+' '+ly+')'},ternLegend,String(k));
  
  
  const bx = ternX(k,0)+bottomNudge[k][0], by = ternY(0)+bottomNudge[k][1];
  const c = mk('text',{class:'c',x:bx,y:by,'font-size':64,fill:'#0B0B52',transform:'rotate(-60 '+bx+' '+by+')'},ternLegend,String(k));
  
  
});
const intensityY = [232,293,352,412,476];
intensityLevels.forEach((lv,i)=>{
  const d = mk('circle',{cx:2339,cy:intensityY[i],r:ternR(lv),fill:'#333'},ternLegend);
  
  
  const t = mk('text',{class:'l',x:2409,y:intensityY[i],'font-size':51,fill:'#0B0B52'},ternLegend,String(lv));
  
  
});
locationNames.forEach((nm,i)=>{
  const y = 225 + 60.15*i;
  const d = mk('circle',{cx:2610,cy:y,r:16,fill:locationColors[i]},ternLegend);
  
  
  const t = mk('text',{class:'l',x:2672,y:y,'font-size':52,fill:'#0B0B52'},ternLegend,nm);
  
  
});

/* ---------- Panel c ---------- */
const panelC = document.getElementById('panelC');
const clusterLayouts = [
 {x:[401,637,873],axisX:383,y0:1665,unit:124.5,ticks:[1,.5,0,-.5,-1],yl:261,tl:332,tx:696,fs:67,fan:12,white:.4},
 {x:[1237.5,1474,1710],axisX:1219,y0:1639,unit:146,ticks:[.5,0,-.5,-1],yl:1099,tl:1169,tx:1534,fs:67,fan:7,white:.35},
 {x:[2074,2311,2547],axisX:2057,y0:1666,unit:126,ticks:[1,.5,0,-.5,-1],yl:1936,tl:2006,tx:2348,fs:60,fan:11,white:.2},
 {x:[2912,3148,3385],axisX:2893,y0:1665,unit:125,ticks:[1,.5,0,-.5,-1],yl:2774,tl:2841,tx:3208,fs:67,fan:12,white:.2}
];
const clusterLineSets = [cluster1Lines,cluster2Lines,cluster3Lines,cluster4Lines];
const clusterCenters = [cluster1Center,cluster2Center,cluster3Center,cluster4Center];
clusterLayouts.forEach((L,ci)=>{
  const g = mk('g',{},panelC);
  
  
  const yC = v => L.y0 - L.unit*v;
  const center = clusterCenters[ci];
  const w = L.white;
  const fanStops = [[0,'#4F9FD2'],[.4*w,'#8FC2E2'],[.75*w,'#DCECF5'],[w,'#FFF8F8'],[1.35*w,'#FFE0E3'],[Math.min(.92,w+.32),'#FFB4BB'],[1,'#FF9FA8']];
  const clip = mk('clipPath',{id:'clipC'+ci},g);
  mk('rect',{x:L.x[0],y:1400,width:L.x[2]-L.x[0],height:500},clip);
  const fan = mk('g',{'clip-path':'url(#clipC'+ci+')'},g);
  
  
  const dist = p => Math.sqrt(p.reduce((s,v,i)=>s+(v-center[i])*(v-center[i]),0));
  const lines = clusterLineSets[ci].slice().sort((a,b)=>dist(b)-dist(a));
  const dMax = dist(lines[0]);
  lines.forEach(p=>{
    const pl = mk('polyline',{points:p.map((v,i)=>L.x[i]+','+yC(v)).join(' '),fill:'none',stroke:ramp(fanStops,dist(p)/dMax),'stroke-width':L.fan,'stroke-linejoin':'round'},fan);
    
    
  });
  const med = mk('polyline',{points:center.map((v,i)=>L.x[i]+','+yC(v)).join(' '),fill:'none',stroke:'#000','stroke-width':15,'stroke-linecap':'round','stroke-linejoin':'round'},g);
  
  
  const xAxis = mk('line',{x1:L.x[0]-2,x2:L.x[2]+2,y1:1819,y2:1819,stroke:'#000','stroke-width':5},g);
  
  
  clusterTimes.forEach((tm,i)=>{
    const tick = mk('line',{x1:L.x[i],x2:L.x[i],y1:1819,y2:1838,stroke:'#000','stroke-width':3.5},g);
    
    
    const lab = mk('text',{class:'c',x:L.x[i],y:1866,'font-size':32},g,tm);
    
    
  });
  const ticks = L.ticks;
  const yAxis = mk('line',{x1:L.axisX,x2:L.axisX,y1:yC(ticks[0]),y2:yC(ticks[ticks.length-1]),stroke:'#000','stroke-width':4},g);
  
  
  ticks.forEach(v=>{
    const tick = mk('line',{x1:L.axisX-17,x2:L.axisX,y1:yC(v),y2:yC(v),stroke:'#000','stroke-width':4},g);
    
    
    if (Number.isInteger(v)) {
      const str = v<0 ? '−1.0' : v.toFixed(1);
      const lab = mk('text',{class:'c',x:L.tl,y:yC(v),'font-size':38,textLength:v<0?64:40,lengthAdjust:'spacingAndGlyphs',transform:'rotate(-90 '+L.tl+' '+yC(v)+')'},g,str);
      
      
    }
  });
  const title = mk('text',{class:'c',x:L.tx,y:1434,'font-size':L.fs},g,clusterTitles[ci]);
  
  
  const yTitle = mk('text',{class:'c',x:L.yl,y:1663,'font-size':58,textLength:480,lengthAdjust:'spacingAndGlyphs',transform:'rotate(-90 '+L.yl+' 1663)'},g,'Expression changes');
  
  
  const xTitle = mk('text',{class:'c',x:L.x[1],y:1923,'font-size':53},g,'Time');
  
  
});

/* ---------- Panel d ---------- */
const panelD = document.getElementById('panelD');
const yD = row => 2117 + 46.5*row;
const xD = col => 1193 + 116.3*(col-1);
const rD = n => 5 + 3.3*Math.sqrt(n);
const pStops = [[0,'#FF7468'],[.012,'#FF85A2'],[.03,'#C892C8'],[.04,'#A690DC'],[.054,'#3399FF']];
pathwayNames.forEach((nm,i)=>{
  const tick = mk('line',{x1:1113,x2:1127,y1:yD(i),y2:yD(i),stroke:'#000','stroke-width':5},panelD);
  
  
  const lab = mk('text',{class:'r',x:1098,y:yD(i),'font-size':49,fill:highlightedPathways.includes(nm)?'#FF6600':'#000'},panelD,nm);
  
  
});
bubbleClusterNames.forEach((nm,i)=>{
  const x = xD(i+1);
  const tick = mk('line',{x1:x,x2:x,y1:3541,y2:3556,stroke:'#000','stroke-width':5},panelD);
  
  
  const lab = mk('text',{x:x+26,y:3582,'font-size':49,'text-anchor':'end',transform:'rotate(-45 '+(x+26)+' 3582)'},panelD,nm);
  
  
});
bubblePathway.forEach((row,i)=>{
  const b = mk('circle',{cx:xD(bubbleCluster[i]),cy:yD(row),r:rD(bubbleCount[i]),fill:ramp(pStops,bubbleP[i])},panelD);
  
  
});
const countY = [2575,2635,2698];
countLevels.forEach((n,i)=>{
  const k = mk('circle',{cx:1704,cy:countY[i],r:rD(n)*.96,fill:'#000'},panelD);
  
  
  const t = mk('text',{class:'l',x:1767,y:countY[i],'font-size':47},panelD,String(n));
  
  
});
const yP = p => 3108 - (p-0.01)/0.01*56.2;
pvalueTicks.forEach(p=>{
  const t1 = mk('line',{x1:1671,x2:1684,y1:yP(p),y2:yP(p),stroke:'#fff','stroke-width':2},panelD);
  
  
  const t2 = mk('line',{x1:1721,x2:1734,y1:yP(p),y2:yP(p),stroke:'#fff','stroke-width':2},panelD);
  
  
  const t = mk('text',{class:'l',x:1761,y:yP(p)-3,'font-size':47},panelD,p.toFixed(2));
  
  
});

/* ---------- Panel e ---------- */
const panelE = document.getElementById('panelE');
const heatTop = 2043, heatRowH = 1316/34, heatLeft = 2166, heatColW = 58;
const heatStops = [[-1.5,'#1A70B5'],[-1,'#5BA5D0'],[-.6,'#A8D5E8'],[-.3,'#DDF1F2'],[0,'#FFFFC0'],[.4,'#FEE090'],[.75,'#FDB070'],[1.1,'#FC7F50'],[1.5,'#FF2A1E']];
const annotationColors = ['#FF948A','#FF8CFF','#00DB94','#00CCFF','#BDBF00'];
heatValues.forEach((row,r)=>{
  const y = heatTop + r*heatRowH;
  const a = mk('rect',{x:2094,y:y,width:48,height:heatRowH+.5,fill:annotationColors[heatRowPathway[r]],'shape-rendering':'crispEdges'},panelE);
  
  
  row.forEach((v,c)=>{
    const cell = mk('rect',{x:heatLeft+c*heatColW,y:y,width:heatColW+.5,height:heatRowH+.5,fill:ramp(heatStops,v),'shape-rendering':'crispEdges'},panelE);
    
    
  });
  const lab = mk('text',{class:'l',x:2698,y:y+heatRowH/2+4,'font-size':29.5},panelE,heatRowNames[r]);
  
  
});
const dendroX = h => 2089 - h*9.57;
const dendroY = leaf => heatTop + (leaf-.5)*heatRowH;
let dendroPath = '';
function walkTree(n){
  if (typeof n === 'number') return {x:2089,y:dendroY(n)};
  const a = walkTree(n[1]), b = walkTree(n[2]), x = dendroX(n[0]);
  dendroPath += 'M'+a.x+' '+a.y+'H'+x+'V'+b.y+'H'+b.x;
  return {x:x,y:(a.y+b.y)/2};
}
walkTree(dendrogramTree);
const dendro = mk('path',{d:dendroPath,fill:'none',stroke:'#000','stroke-width':4},panelE);


annotationNames.forEach((nm,i)=>{
  const y = 3437 + 60.8*i;
  const s = mk('rect',{x:2098,y:y,width:61,height:61,fill:annotationColors[i]},panelE);
  
  
  const t = mk('text',{class:'l',x:2170,y:y+28,'font-size':42},panelE,nm);
  
  
});

/* ---------- Pathway arrows ---------- */
const arrowsG = document.getElementById('arrows');
const SOLID = {w:10,color:'#000'};
const DOT = {w:11,color:'#000',dash:'7 6'};
const BDOT = {w:13,color:'#1E9BD7',dash:'7 6'};
function arrow(name,x1,y1,x2,y2,opt,both,noHead){
  const len = Math.hypot(x2-x1,y2-y1), ux=(x2-x1)/len, uy=(y2-y1)/len, H=20, W=12;
  const g = mk('g',{},arrowsG);
  
  
  const sx = both ? x1+ux*(H-1) : x1, sy = both ? y1+uy*(H-1) : y1;
  const ex = noHead ? x2 : x2-ux*(H-1), ey = noHead ? y2 : y2-uy*(H-1);
  const la = {x1:sx,y1:sy,x2:ex,y2:ey,stroke:opt.color,'stroke-width':opt.w};
  if (opt.dash) la['stroke-dasharray'] = opt.dash;
  mk('line',la,g);
  const head = (tx,ty,dx,dy)=>{
    const bx=tx-dx*H, by=ty-dy*H;
    mk('polygon',{points:tx+','+ty+' '+(bx-dy*W)+','+(by+dx*W)+' '+(bx+dy*W)+','+(by-dx*W),fill:opt.color},g);
  };
  if (!noHead) head(x2,y2,ux,uy);
  if (both) head(x1,y1,-ux,-uy);
}
arrow('glycolysis-to-glucose-arrow',765,3938,967,3938,BDOT);
arrow('glucose-to-glycerate-arrow',1090,3979,1090,4059,DOT);
arrow('glycerate-to-pep-arrow',917,4113,837,4113,DOT);
arrow('pep-to-pyruvate-arrow',430,4147,430,4228,DOT);
arrow('pyruvate-to-acetyl-coa-arrow',608,4272,742,4272,DOT);
arrow('pyruvate-to-oxaloacetate-arrow',430,4315,430,4397,SOLID);
arrow('citrate-to-oxaloacetate-arrow',784,4453,659,4453,{w:13,color:'#000'});
arrow('oxaloacetate-to-malate-arrow',430,4514,430,4596,SOLID);
arrow('malate-to-fumarate-arrow',430,4738,430,4820,SOLID);
arrow('fumarate-to-succinyl-coa-arrow',627,4896,763,4896,DOT);
arrow('succinyl-coa-to-oxoglutarate-arrow',908,4832,908,4750,DOT);
arrow('oxoglutarate-to-citrate-arrow',908,4593,908,4516,DOT);
arrow('carbon-fixation-arrow',1209,4246,1209,4156,BDOT);
arrow('udp-to-sucrose-6p-arrow',2101,4273,2015,4273,{w:11,color:'#000'});
arrow('udp-to-trehalose-6p-arrow',2517,4273,2604,4273,{w:11,color:'#000'});
arrow('trehalose-6p-to-trehalose-arrow',3032,4273,3119,4273,{w:11,color:'#000'});
arrow('sucrose-6p-to-sucrose-arrow',1810,4319,1810,4407,SOLID);
arrow('glucose-1p-to-udp-arrow',2286,4408,2286,4320,SOLID);
arrow('udp-to-secondary-metabolism-arrow',2294,4200,2294,4112,{w:10,color:'#1E9BD7',dash:'7 6'});
arrow('udp-sucrose-stub',2131,4312,2095,4333,SOLID,false,true);
arrow('sus-to-sucrose-arrow',2002,4403,1948,4434,SOLID);
arrow('sucrose-to-fructose-arrow',1810,4522,1810,4611,SOLID);
arrow('fructose-to-fructose-6p-arrow',1810,4730,1810,4820,SOLID);
arrow('glucose-1p-to-amylose-arrow',2530,4474,2663,4474,{w:11,color:'#000'});
arrow('amylose-to-starch-arrow',2814,4516,2814,4604,SOLID);
arrow('glucose-1p-glucose-6p-arrow',2286,4524,2286,4611,SOLID,true);
arrow('glucose-6p-glucose-arrow',2286,4731,2286,4820,SOLID,true);
arrow('fructose-6p-glucose-arrow',2025,4885,2156,4885,{w:11,color:'#000'},true);
arrow('glycolysis-to-glucose-g-arrow',2615,4882,2455,4882,BDOT);
arrow('starch-to-maltose-arrow',2931,4670,3064,4670,{w:11,color:'#000'});
arrow('starch-to-dextrin-arrow',2925,4730,3078,4859,SOLID);
arrow('starch-gpp-stub',2706,4670,2620,4617,SOLID,false,true);
arrow('gpp-to-glucose-1p-arrow',2530,4545,2481,4516,SOLID);
</script>
</body>
</html>
